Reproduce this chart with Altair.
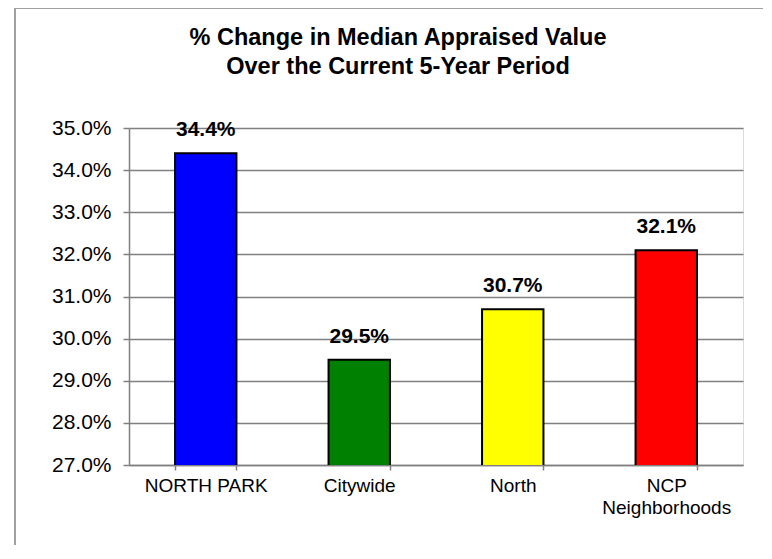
import altair as alt
import pandas as pd

categories = ["NORTH PARK", "Citywide", "North", "NCP Neighborhoods"]
values = [0.344, 0.295, 0.307, 0.321]
colors = ["#0000FF", "#008000", "#FFFF00", "#FF0000"]
y_ticks = [0.27, 0.28, 0.29, 0.30, 0.31, 0.32, 0.33, 0.34, 0.35]
title_lines = ["% Change in Median Appraised Value", "Over the Current 5-Year Period"]

df = pd.DataFrame({"cat": categories, "val": values, "color": colors})

FONT = "Liberation Sans, Arial, sans-serif"

x = alt.X(
    "cat:N",
    sort=categories,
    title=None,
    scale=alt.Scale(paddingInner=0.6, paddingOuter=0.3),
    axis=alt.Axis(
        labelAngle=0,
        labelFont=FONT,
        labelFontSize=19,
        labelColor="#000000",
        labelPadding=6,
        labelLineHeight=22,
        labelExpr="datum.value == 'NCP Neighborhoods' ? ['NCP', 'Neighborhoods'] : datum.value",
        tickBand="extent",
        tickColor="#808080",
        tickWidth=1.5,
        tickSize=5,
        domainColor="#808080",
        domainWidth=1.5,
        grid=False,
    ),
)
y = alt.Y(
    "val:Q",
    title=None,
    scale=alt.Scale(domain=[0.27, 0.35], zero=False, nice=False),
    axis=alt.Axis(
        values=y_ticks,
        format=".1%",
        labelFont=FONT,
        labelFontSize=21,
        labelColor="#000000",
        labelPadding=12,
        tickColor="#808080",
        tickWidth=1.5,
        tickSize=6,
        domainColor="#808080",
        domainWidth=1.5,
        gridColor="#808080",
        gridWidth=1.5,
    ),
)

frame = alt.Chart(df).mark_rect(
    fillOpacity=0, stroke="#A0A0A0", strokeWidth=2, clip=False
).encode(
    x=alt.value(-114), x2=alt.value(700), y=alt.value(-120), y2=alt.value(500)
)

bars = alt.Chart(df).mark_bar(stroke="#000000", strokeWidth=2, clip=True).encode(
    x=x,
    y=y,
    color=alt.Color("color:N", scale=None),
)

labels = alt.Chart(df).mark_text(
    font=FONT, fontSize=21, fontWeight="bold", dy=-17, baseline="alphabetic", color="#000000"
).encode(
    x=alt.X("cat:N", sort=categories),
    y=alt.Y("val:Q"),
    text=alt.Text("val:Q", format=".1%"),
)

chart = (
    alt.layer(frame, bars, labels)
    .properties(
        width=614,
        height=337,
        autosize=alt.AutoSizeParams(type="none"),
        padding={"left": 121, "top": 120, "right": 20, "bottom": 80},
        title=alt.TitleParams(
            text=title_lines,
            font=FONT,
            fontSize=23.5,
            fontWeight="bold",
            color="#000000",
            anchor="middle",
            lineHeight=28.5,
            offset=0,
            dx=-38,
            dy=95,
            baseline="bottom",
        ),
    )
    .configure_view(fill="#C0C0C0", stroke=None)
    .configure(background="white")
)

chart.save("out.html", embed_options={"renderer": "svg", "actions": False})
